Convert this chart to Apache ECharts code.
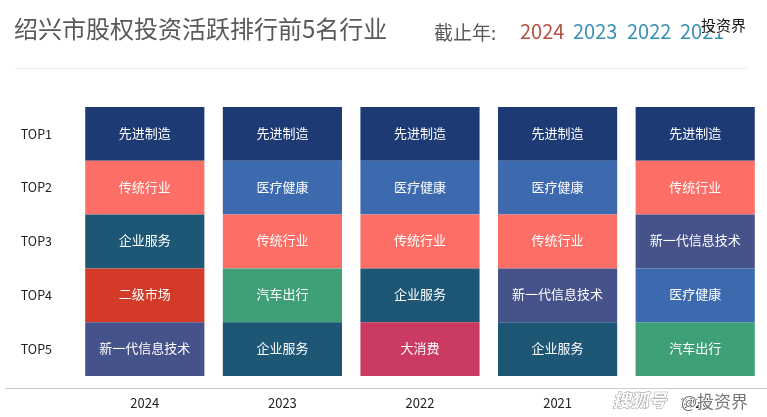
<!DOCTYPE html>
<html>
<head>
<meta charset="utf-8">
<style>
  html, body { margin: 0; padding: 0; background: #fff; }
  #chart { width: 767px; height: 417px; }
</style>
<script src="https://cdn.jsdelivr.net/npm/echarts@6/dist/echarts.min.js"></script>
</head>
<body>
<div id="chart"></div>
<script>
const years = ['2024', '2023', '2022', '2021', '2020'];
const ranks = ['TOP1', 'TOP2', 'TOP3', 'TOP4', 'TOP5'];
const top1 = ['先进制造', '先进制造', '先进制造', '先进制造', '先进制造'];
const top2 = ['传统行业', '医疗健康', '医疗健康', '医疗健康', '传统行业'];
const top3 = ['企业服务', '传统行业', '传统行业', '传统行业', '新一代信息技术'];
const top4 = ['二级市场', '汽车出行', '企业服务', '新一代信息技术', '医疗健康'];
const top5 = ['新一代信息技术', '企业服务', '大消费', '企业服务', '汽车出行'];
const rows = [top1, top2, top3, top4, top5];

const industryColors = {
  '先进制造': '#1d3a75',
  '传统行业': '#fd6f66',
  '医疗健康': '#3d6aae',
  '企业服务': '#1d5775',
  '二级市场': '#d33a27',
  '汽车出行': '#3f9f76',
  '新一代信息技术': '#46538a',
  '大消费': '#cb3a61'
};

const chart = echarts.init(document.getElementById('chart'));
const fontFamily = '"Noto Sans CJK SC", "Noto Sans", sans-serif';

chart.setOption({
  animation: false,
  backgroundColor: '#fff',
  textStyle: { fontFamily },
  title: {
    text: '绍兴市股权投资活跃排行前5名行业',
    left: 9,
    top: 12,
    textStyle: { fontSize: 24, fontWeight: 'normal', color: '#595959', fontFamily }
  },
  grid: { left: 76, right: 3, top: 107, bottom: 41 },
  xAxis: {
    type: 'category',
    data: years,
    offset: 12,
    axisLine: { show: false },
    axisTick: { show: false },
    axisLabel: { color: '#222', fontSize: 13, margin: 9 }
  },
  yAxis: [
    { type: 'value', min: 0, max: 5, inverse: true, show: false },
    {
      type: 'category',
      data: ranks,
      inverse: true,
      position: 'left',
      axisLine: { show: false },
      axisTick: { show: false },
      axisLabel: { color: '#222', fontSize: 12.5, margin: 24 }
    }
  ],
  series: rows.map((row, i) => ({
    type: 'bar',
    name: ranks[i],
    stack: 'rank',
    barWidth: '86.6%',
    yAxisIndex: 0,
    data: row.map(name => ({
      value: 1,
      name,
      itemStyle: { color: industryColors[name] }
    })),
    label: {
      show: true,
      position: 'inside',
      offset: [0, -1],
      formatter: p => row[p.dataIndex],
      color: '#fff',
      fontSize: 13
    }
  })),
  graphic: [
    { type: 'line', shape: { x1: 15, y1: 68.5, x2: 748, y2: 68.5 }, style: { stroke: '#eeeeee', lineWidth: 1 } },
    { type: 'line', shape: { x1: 5, y1: 388.5, x2: 767, y2: 388.5 }, style: { stroke: '#cccccc', lineWidth: 1 } },
    { type: 'text', left: 434, top: 23, style: { text: '截止年:', fill: '#595959', font: '19px ' + fontFamily } },
    { type: 'text', left: 520, top: 21, style: { text: '2024', fill: '#b5503f', font: '20px ' + fontFamily } },
    { type: 'text', left: 573, top: 21, style: { text: '2023', fill: '#3a8fb5', font: '20px ' + fontFamily } },
    { type: 'text', left: 627, top: 21, style: { text: '2022', fill: '#3a8fb5', font: '20px ' + fontFamily } },
    { type: 'text', left: 680, top: 21, style: { text: '2021', fill: '#3a8fb5', font: '20px ' + fontFamily } },
    // watermarks sitting over the picture
    { type: 'text', left: 700, top: 17, z: 10, style: { text: '投资界', fill: '#111', stroke: '#fff', lineWidth: 2, font: '15px ' + fontFamily } },
    { type: 'text', left: 612, top: 391, z: 10, style: { text: '搜狐号', fill: '#fff', stroke: '#999', lineWidth: 1, font: 'italic bold 18px ' + fontFamily } },
    { type: 'text', left: 680, top: 392, z: 10, style: { text: '@投资界', fill: '#777', stroke: '#fff', lineWidth: 2, font: '17px ' + fontFamily } }
  ]
});
</script>
</body>
</html>
